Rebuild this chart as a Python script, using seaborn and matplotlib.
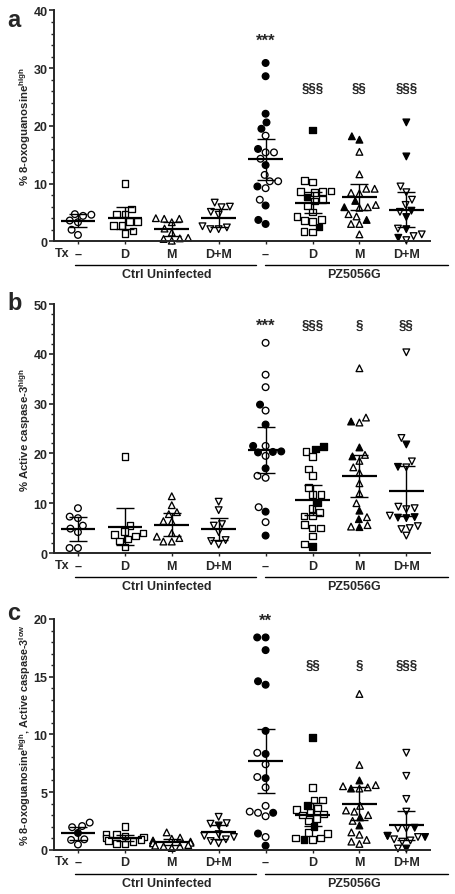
import numpy as np
import pandas as pd
import matplotlib
matplotlib.use("Agg")
import matplotlib.pyplot as plt
import matplotlib.transforms as mtransforms
from matplotlib.collections import PathCollection
from matplotlib.ticker import MultipleLocator
import seaborn as sns
import warnings
warnings.filterwarnings("ignore")

sns.set_style("ticks")
plt.rcParams["font.family"] = ["Liberation Sans", "DejaVu Sans"]
plt.rcParams["font.weight"] = "bold"
plt.rcParams["axes.labelweight"] = "bold"
plt.rcParams["mathtext.default"] = "regular"

# ---------------- data ----------------
CATS = ["C–", "CD", "CM", "CDM", "P–", "PD", "PM", "PDM"]
TICK_LABELS = ["–", "D", "M", "D+M", "–", "D", "M", "D+M"]
GROUP_LABELS = ["Ctrl Uninfected", "PZ5056G"]
MARKERS = ["o", "s", "^", "v"]

# Panel a: % 8-oxoguanosine high
a_open = [
    [4.7, 4.6, 4.4, 3.6, 3.3, 2.0, 1.1],
    [10.0, 5.6, 4.7, 4.7, 3.4, 3.4, 2.7, 2.7, 1.8, 1.4],
    [4.0, 3.9, 3.9, 3.3, 2.2, 1.5, 0.6, 0.5, 0.4, 0.1],
    [6.7, 6.0, 5.9, 5.1, 4.6, 2.6, 2.4, 2.1, 2.1],
    [18.3, 15.4, 15.4, 14.3, 11.5, 10.4, 10.4, 9.2, 7.2],
    [10.5, 10.3, 8.7, 8.6, 8.6, 8.4, 7.2, 7.0, 6.2, 5.1, 4.3, 3.8, 3.6, 3.4, 1.7, 1.6],
    [15.5, 11.6, 9.1, 9.1, 8.4, 8.3, 6.3, 5.9, 5.8, 4.7, 4.3, 3.0, 3.0, 1.2],
    [9.5, 8.5, 7.2, 6.3, 5.1, 2.2, 1.2, 0.9, 0.2],
]
a_filled = [
    [], [], [], [],
    [30.9, 28.6, 22.1, 20.6, 19.5, 16.0, 13.2, 9.5, 6.2, 3.7, 3.0],
    [19.3, 7.7, 2.5],
    [18.2, 17.6, 7.0, 5.9, 3.7],
    [20.6, 14.7, 5.3, 4.2, 2.1, 0.6],
]
a_mean = [3.55, 4.0, 2.1, 4.0, 14.2, 6.7, 7.7, 5.5]
a_err = [1.15, 1.9, 1.2, 1.6, 3.5, 1.85, 2.2, 3.0]
a_sig = ["", "", "", "", "***", "§§§", "§§", "§§§"]
a_sig_y = [0, 0, 0, 0, 34.8, 26.5, 26.5, 26.5]

# Panel b: % Active caspase-3 high
b_open = [
    [9.0, 7.3, 7.0, 5.5, 4.9, 4.2, 1.0, 1.0],
    [19.4, 5.5, 4.3, 4.0, 3.7, 3.4, 2.8, 2.4, 1.2],
    [11.4, 9.6, 8.2, 7.8, 6.4, 6.3, 4.0, 3.3, 3.0, 2.3, 2.3],
    [10.3, 8.6, 5.8, 5.5, 4.2, 2.6, 2.4, 1.7],
    [42.2, 35.8, 33.3, 28.6, 21.5, 19.5, 15.5, 15.1, 9.2, 6.2],
    [20.4, 19.4, 16.9, 15.5, 13.2, 11.8, 11.8, 9.0, 8.2, 7.4, 7.4, 5.7, 5.0, 5.0, 3.4, 1.8],
    [37.1, 27.2, 26.2, 19.7, 18.5, 17.2, 16.1, 14.0, 12.0, 10.0, 7.2, 5.6, 5.3],
    [40.3, 23.1, 18.4, 17.2, 9.3, 9.0, 8.8, 7.5, 5.4, 5.0, 4.8, 3.5],
]
b_filled = [
    [], [], [], [],
    [29.8, 25.8, 21.5, 20.4, 20.3, 20.2, 17.0, 8.3, 3.5],
    [21.4, 20.9, 10.2, 1.3],
    [26.4, 21.2, 19.4, 8.5, 6.8, 5.2],
    [21.8, 17.3, 7.2, 7.1, 7.0],
]
b_mean = [4.8, 5.3, 5.7, 4.8, 20.7, 10.7, 15.5, 12.4]
b_err = [2.4, 3.7, 2.3, 2.2, 4.6, 3.0, 4.2, 5.0]
b_sig = ["", "", "", "", "***", "§§§", "§", "§§"]
b_sig_y = [0, 0, 0, 0, 45.8, 45.8, 45.8, 45.8]

# Panel c: % 8-oxoguanosine high, Active caspase-3 low
c_open = [
    [2.35, 2.05, 1.95, 0.9, 0.85, 0.45],
    [2.0, 1.35, 1.3, 1.2, 1.1, 1.0, 0.9, 0.8, 0.7, 0.55, 0.5],
    [1.5, 1.05, 0.95, 0.8, 0.7, 0.65, 0.6, 0.55, 0.4, 0.35, 0.3, 0.3, 0.15],
    [2.85, 2.3, 2.25, 1.35, 1.2, 1.1, 0.9, 0.75, 0.55],
    [8.4, 7.4, 6.3, 5.4, 3.8, 3.3, 3.2, 2.9, 1.1],
    [5.4, 4.3, 4.3, 3.6, 3.5, 3.2, 3.1, 3.0, 2.7, 2.5, 1.5, 1.4, 1.0, 1.0, 0.9],
    [13.5, 7.35, 5.6, 5.5, 5.4, 5.3, 3.8, 3.4, 3.3, 3.0, 2.5, 1.5, 1.3, 0.85, 0.7, 0.5],
    [8.4, 6.4, 4.4, 3.3, 1.85, 1.85, 1.2, 1.1, 0.9, 0.8, 0.7, 0.1],
]
c_filled = [
    [1.45], [], [], [2.1],
    [18.4, 18.4, 17.3, 14.6, 14.3, 10.3, 8.3, 6.2, 3.2, 1.4, 0.35],
    [9.75, 3.85, 2.0, 0.9],
    [6.0, 5.3, 2.8, 2.1],
    [1.9, 1.2, 1.1, 0.1],
]
c_mean = [1.42, 1.0, 0.64, 1.5, 7.7, 3.05, 4.0, 2.1]
c_err = [0.55, 0.27, 0.25, 0.6, 2.8, 1.0, 1.45, 1.25]
c_sig = ["", "", "", "", "**", "§§", "§", "§§§"]
c_sig_y = [0, 0, 0, 0, 19.9, 16.0, 16.0, 16.0]

PANELS = [
    dict(letter="a", opn=a_open, fil=a_filled, mean=a_mean, err=a_err, sig=a_sig, sig_y=a_sig_y,
         ylabel=r"% 8-oxoguanosine$^{high}$", ylsize=8.2, ymax=40, major=10, minor=2,
         rect=(0.1195, 0.7293, 0.823, 0.2579), letter_y=27),
    dict(letter="b", opn=b_open, fil=b_filled, mean=b_mean, err=b_err, sig=b_sig, sig_y=b_sig_y,
         ylabel=r"% Active caspase-3$^{high}$", ylsize=8.2, ymax=50, major=10, minor=2,
         rect=(0.1195, 0.3810, 0.823, 0.2782), letter_y=310),
    dict(letter="c", opn=c_open, fil=c_filled, mean=c_mean, err=c_err, sig=c_sig, sig_y=c_sig_y,
         ylabel=r"% 8-oxoguanosine$^{high}$, Active caspase-3$^{low}$", ylsize=7.8, ymax=20, major=5, minor=1,
         rect=(0.1195, 0.0495, 0.823, 0.2578), letter_y=620),
]

W, H = 456, 895
fig = plt.figure(figsize=(W / 100, H / 100), dpi=100)


def below(ax, px):
    return mtransforms.offset_copy(ax.get_xaxis_transform(), fig=fig, x=0, y=-px, units="dots")


for p in PANELS:
    ax = fig.add_axes(p["rect"])
    rows = []
    for i, cat in enumerate(CATS):
        for v in p["opn"][i]:
            rows.append((cat, v, "open", MARKERS[i % 4]))
        for v in p["fil"][i]:
            rows.append((cat, v, "filled", MARKERS[i % 4]))
    df = pd.DataFrame(rows, columns=["cat", "value", "fill", "marker"])
    for m in MARKERS:
        sub = df[df["marker"] == m]
        sns.swarmplot(data=sub, x="cat", y="value", hue="fill", hue_order=["open", "filled"],
                      palette={"open": "white", "filled": "black"}, order=CATS,
                      marker=m, size=4.8, edgecolor="black", linewidth=0.95,
                      legend=False, ax=ax, zorder=2)
    for coll in ax.collections:
        if isinstance(coll, PathCollection) and len(coll.get_offsets()) > 0:
            coll.set_clip_on(False)

    x = np.arange(len(CATS))
    ax.hlines(p["mean"], x - 0.37, x + 0.37, color="black", lw=1.6, zorder=4)
    ax.errorbar(x, p["mean"], yerr=p["err"], fmt="none", ecolor="black",
                elinewidth=1.0, capsize=6.5, capthick=1.0, zorder=4)

    for xi, s, sy in zip(x, p["sig"], p["sig_y"]):
        if s:
            fs = 12 if "*" in s else 9.5
            ax.text(xi, sy, s, ha="center", va="center", fontsize=fs, fontweight="bold")

    ax.set_xlim(-0.5, len(CATS) - 0.5)
    ax.set_ylim(0, p["ymax"])
    ax.yaxis.set_major_locator(MultipleLocator(p["major"]))
    ax.yaxis.set_minor_locator(MultipleLocator(p["minor"]))
    ax.set_xticks(x)
    ax.set_xticklabels(TICK_LABELS)
    ax.set_xlabel("")
    ax.set_ylabel(p["ylabel"], fontsize=p["ylsize"], labelpad=0.5)
    sns.despine(ax=ax)
    ax.spines["left"].set_linewidth(1.4)
    ax.spines["bottom"].set_linewidth(1.4)
    ax.tick_params(axis="y", which="major", length=3.5, width=1.2, labelsize=9, pad=1.5)
    ax.tick_params(axis="y", which="minor", length=2.2, width=1.0)
    ax.tick_params(axis="x", which="major", length=2.2, width=1.0, labelsize=9, pad=2.5)

    ax.text(-0.34, 0, "Tx", transform=below(ax, 11.5), ha="center", va="center", fontsize=9)
    ax.plot([0 - 0.07, 3 + 0.8], [0, 0], transform=below(ax, 24), color="black", lw=1.0, clip_on=False)
    ax.plot([4 - 0.01, 7 + 0.88], [0, 0], transform=below(ax, 24), color="black", lw=1.0, clip_on=False)
    ax.text(1.9, 0, GROUP_LABELS[0], transform=below(ax, 33), ha="center", va="center", fontsize=9)
    ax.text(5.88, 0, GROUP_LABELS[1], transform=below(ax, 33), ha="center", va="center", fontsize=9)

    fig.text(7 / W, 1 - p["letter_y"] / H, p["letter"], fontsize=17, fontweight="bold", va="baseline")

fig.savefig("out.png", dpi=100)
